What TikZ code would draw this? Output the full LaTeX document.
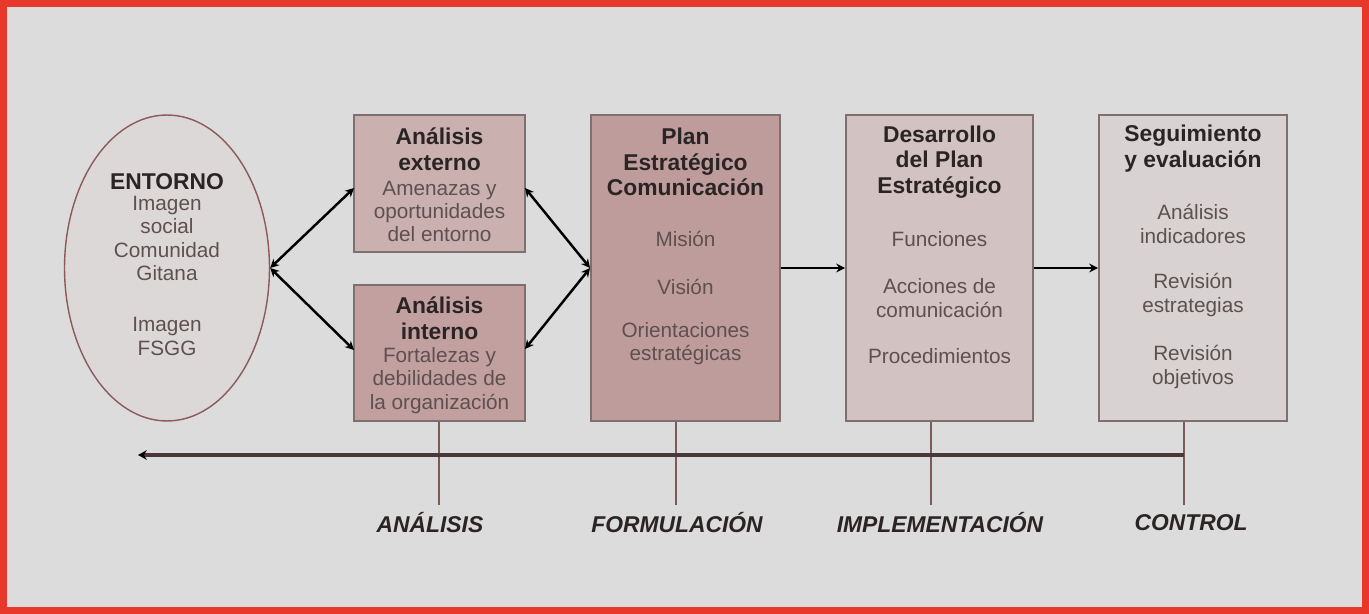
\documentclass[tikz,border=0pt]{standalone}
\usepackage{fontspec}
\setmainfont{Liberation Sans}
\usetikzlibrary{shapes.geometric,arrows.meta}
\definecolor{bgc}{HTML}{DCDCDC}
\definecolor{framec}{HTML}{E8382C}
\definecolor{ellfill}{HTML}{DDD8D8}
\definecolor{ellline}{HTML}{8C5A5A}
\definecolor{fillA}{HTML}{CBB0B0}
\definecolor{fillB}{HTML}{C2A0A0}
\definecolor{fillC}{HTML}{BE9C9C}
\definecolor{fillD}{HTML}{D2C2C2}
\definecolor{fillE}{HTML}{D9D2D2}
\definecolor{boxline}{HTML}{7F7070}
\definecolor{hdc}{HTML}{2B2424}
\definecolor{bdc}{HTML}{5E5050}
\definecolor{tickc}{HTML}{7A5A5A}
\definecolor{fbc}{HTML}{4A3838}
\tikzset{
  stagebox/.style={draw=boxline, line width=1.1pt, rectangle, inner sep=0pt},
  headtxt/.style={font=\fontsize{13}{14.7}\selectfont\bfseries, text=hdc, align=center, inner sep=0pt},
  bodytxt/.style={font=\fontsize{11.8}{13.3}\selectfont, text=bdc, align=center, inner sep=0pt},
  phasetxt/.style={font=\fontsize{13}{15}\selectfont\bfseries\itshape, text=hdc, inner sep=0pt},
  flow/.style={line width=1.4pt, black, {Stealth[length=5pt,width=5pt]}-{Stealth[length=5pt,width=5pt]}},
  fwd/.style={line width=1.4pt, black, -{Stealth[length=5pt,width=5pt]}},
  tick/.style={line width=0.6pt, tickc},
}
\begin{document}
\begin{tikzpicture}[x=0.02cm,y=-0.02cm]
\fill[bgc] (0,0) rectangle (1369,614);
\draw[framec, line width=0.14cm] (3.5,3.5) rectangle (1365.5,610.5);
\useasboundingbox (0,0) rectangle (1369,614);

% ellipse
\node[ellipse, draw=ellline, fill=ellfill, line width=0.8pt, minimum width=4.1cm, minimum height=6.12cm, inner sep=0pt] (ent) at (167,268) {};
\node[bodytxt] (entA) at (167,227) {{\fontsize{13}{13.6}\selectfont\bfseries\color{hdc}ENTORNO}\\[-1pt]Imagen\\social\\Comunidad\\Gitana};
\node[bodytxt] (entB) at (167,336.5) {Imagen\\FSGG};

% boxes
\node[stagebox, fill=fillA, minimum width=3.42cm, minimum height=2.74cm] (b1) at (439.5,183.5) {};
\node[stagebox, fill=fillB, minimum width=3.42cm, minimum height=2.72cm] (b2) at (439.5,353) {};
\node[stagebox, fill=fillC, minimum width=3.78cm, minimum height=6.12cm] (b3) at (685.5,268) {};
\node[stagebox, fill=fillD, minimum width=3.74cm, minimum height=6.12cm] (b4) at (939.5,268) {};
\node[stagebox, fill=fillE, minimum width=3.76cm, minimum height=6.12cm] (b5) at (1193,268) {};

% box texts
\node[headtxt] (b1h) at (439.5,149) {Análisis\\externo};
\node[bodytxt] (b1t) at (439.5,211.5) {Amenazas y\\oportunidades\\del entorno};
\node[headtxt] (b2h) at (439.5,318) {Análisis\\interno};
\node[bodytxt] (b2t) at (439.5,380.5) {Fortalezas y\\debilidades de\\la organización};

\node[headtxt] (b3h) at (685.5,162) {Plan\\Estratégico\\Comunicación};
\node[bodytxt] (b3a) at (685.5,239) {Misión};
\node[bodytxt] (b3b) at (685.5,287) {Visión};
\node[bodytxt] (b3c) at (685.5,343.5) {Orientaciones\\estratégicas};

\node[headtxt] (b4h) at (939.5,162) {Desarrollo\\del Plan\\Estratégico};
\node[bodytxt] (b4a) at (939.5,239) {Funciones};
\node[bodytxt] (b4b) at (939.5,298) {Acciones de\\comunicación};
\node[bodytxt] (b4c) at (939.5,356) {Procedimientos};

\node[headtxt] (b5h) at (1193,149) {Seguimiento\\y evaluación};
\node[bodytxt] (b5a) at (1193,224) {Análisis\\indicadores};
\node[bodytxt] (b5b) at (1193,295) {Revisión\\estrategias};
\node[bodytxt] (b5c) at (1193,367) {Revisión\\objetivos};

% arrows
\coordinate (b1l) at (354,188);
\coordinate (b1r) at (525,188);
\coordinate (b2l) at (354,350);
\coordinate (b2r) at (525,349);
\draw[flow] (ent.east) -- (b1l);
\draw[flow] (ent.east) -- (b2l);
\draw[flow] (b1r) -- (b3.west);
\draw[flow] (b2r) -- (b3.west);
\draw[fwd] (b3.east) -- (b4.west);
\draw[fwd] (b4.east) -- (b5.west);

% phase labels
\node[phasetxt] (p1) at (430,523) {ANÁLISIS};
\node[phasetxt] (p2) at (677,523) {FORMULACIÓN};
\node[phasetxt] (p3) at (940,523) {IMPLEMENTACIÓN};
\node[phasetxt] (p4) at (1191,523) {CONTROL};

\coordinate (v1) at (439,505);
\coordinate (v2) at (676,505);
\coordinate (v3) at (931,505);
\coordinate (v4) at (1184,505);
\draw[tick] (v1) -- (v1 |- b2.south);
\draw[tick] (v2) -- (v2 |- b3.south);
\draw[tick] (v3) -- (v3 |- b4.south);
\draw[tick] (v4) -- (v4 |- b5.south);

% feedback line
\coordinate (fbR) at (1184,455);
\coordinate (fbL) at (138,455);
\draw[line width=1.8pt, fbc, -{Stealth[length=5pt,width=5.5pt,color=black]}] (fbR) -- (fbL);
\end{tikzpicture}
\end{document}
